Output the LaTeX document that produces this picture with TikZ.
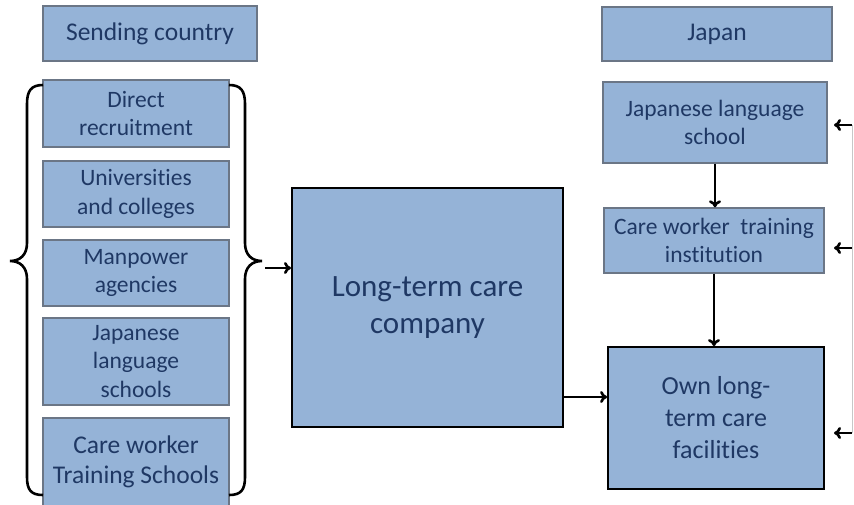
\documentclass[tikz,border=0pt]{standalone}
\usepackage{fontspec}
\setmainfont{Carlito}[Ligatures=NoCommon]
\usetikzlibrary{arrows.meta}
\definecolor{boxfill}{HTML}{95B3D7}
\definecolor{boxtext}{HTML}{1F3864}
\definecolor{boxline}{HTML}{6B7686}
\tikzset{
  x=1pt, y=-1pt,
  smallbox/.style={draw=boxline, line width=1.4pt, fill=boxfill, text=boxtext, align=center,
    inner sep=0pt, font=\fontsize{23.5}{28.5}\selectfont},
  largetext/.style={font=\fontsize{25.5}{29.5}\selectfont},
  bigbox/.style={draw=black, line width=2pt, fill=boxfill, text=boxtext, align=center,
    inner sep=0pt},
  conn/.style={line width=2.6pt, -{To[length=7pt,width=12pt]}},
  bracestyle/.style={line width=2.6pt},
  sideline/.style={line width=1pt, draw=black!22}
}
\begin{document}
\begin{tikzpicture}
\useasboundingbox (0,0) rectangle (854,504);
% headers
\node[smallbox, largetext, minimum width=214pt, minimum height=55pt] (send) at (150,33.5) {Sending country};
\node[smallbox, largetext, minimum width=230pt, minimum height=54pt] (japan) at (717,34) {Japan};
% left column
\node[smallbox, minimum width=186pt, minimum height=67pt] (d1) at (136,113.5) {Direct\\recruitment};
\node[smallbox, minimum width=186pt, minimum height=66pt] (d2) at (136,194) {Universities\\and colleges};
\node[smallbox, minimum width=186pt, minimum height=66pt] (d3) at (136,273) {Manpower\\agencies};
\node[smallbox, minimum width=186pt, minimum height=87pt] (d4) at (136,361.5) {Japanese\\language\\schools};
\node[smallbox, largetext, minimum width=186pt, minimum height=88pt] (d5) at (136,462) {Care worker\\Training Schools};
% big company
\node[bigbox, minimum width=271pt, minimum height=239pt, font=\fontsize{31}{37}\selectfont] (big) at (427.5,307.5) {Long-term care\\company};
% right column
\node[smallbox, minimum width=224pt, minimum height=81pt] (jls) at (715,122.5) {Japanese language\\school};
\node[smallbox, minimum width=220pt, minimum height=65pt] (cwt) at (714,240.5) {Care worker~ training\\institution};
\node[bigbox, line width=1.8pt, minimum width=216pt, minimum height=142pt, font=\fontsize{26}{32}\selectfont] (own) at (716,418) {Own long-\\term care\\facilities};
% braces
\draw[bracestyle] (43,85) .. controls (31,85) and (27,91) .. (27,104) -- (27,243)
  .. controls (27,255) and (20,261) .. (10,261) .. controls (20,261) and (27,267) .. (27,279)
  -- (27,477) .. controls (27,490) and (31,495) .. (43,495);
\draw[bracestyle] (229,85) .. controls (241,85) and (245,91) .. (245,104) -- (245,243)
  .. controls (245,255) and (252,261) .. (262,261) .. controls (252,261) and (245,267) .. (245,279)
  -- (245,477) .. controls (245,490) and (241,495) .. (229,495);
\coordinate (btip) at (265,268);
\draw[conn] (btip) -- (btip -| big.west);
% company to own facilities
\coordinate (bout) at (563,397);
\draw[conn] (bout) -- (bout -| own.west);
% vertical arrows
\draw[conn] (jls.south) -- (jls.south |- cwt.north);
\draw[conn] (cwt.south) -- (cwt.south |- own.north);
% side line and arrows
\coordinate (s1) at (852,125);
\coordinate (s2) at (852,248);
\coordinate (s3) at (852,433);
\draw[sideline] (s1) -- (s3);
\draw[conn] (s1) -- ++(-18,0);
\draw[conn] (s2) -- ++(-18,0);
\draw[conn] (s3) -- ++(-18,0);
\end{tikzpicture}
\end{document}
